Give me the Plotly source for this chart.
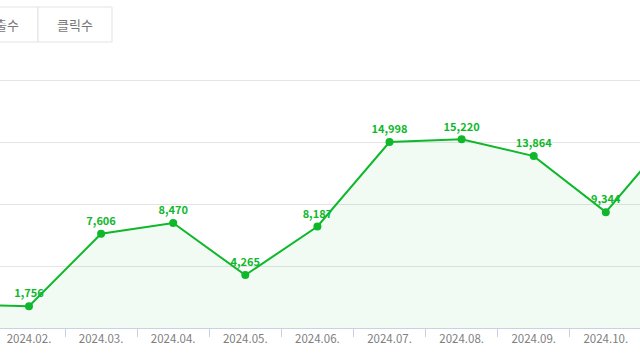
import plotly.graph_objects as go

months = ["2024.01.", "2024.02.", "2024.03.", "2024.04.", "2024.05.", "2024.06.",
          "2024.07.", "2024.08.", "2024.09.", "2024.10.", "2024.11."]
clicks = [1900, 1756, 7606, 8470, 4265, 8187, 14998, 15220, 13864, 9344, 16200]
labels = [f"{v:,}" for v in clicks]
buttons = ["노출수", "클릭수"]

GREEN = "#0fb82b"
TOP = 74
BASE = 328
YMAX = (BASE - TOP) / 248 * 20000

fig = go.Figure()
fig.add_trace(go.Scatter(
    x=months, y=clicks, mode="lines+markers+text",
    line=dict(color=GREEN, width=2),
    marker=dict(color=GREEN, size=8),
    fill="tozeroy", fillcolor="rgba(20,190,60,0.06)",
    text=labels, textposition="top center",
    textfont=dict(color=GREEN, size=11, family="Noto Sans CJK KR", weight="bold"),
    cliponaxis=False, hoverinfo="skip",
))

fig.update_layout(
    width=640, height=360,
    margin=dict(l=0, r=0, t=TOP, b=360 - BASE),
    paper_bgcolor="white", plot_bgcolor="white",
    showlegend=False,
    font=dict(family="Noto Sans CJK KR"),
    xaxis=dict(
        type="category", range=[0.598, 9.474],
        tickson="boundaries", ticks="outside", ticklen=8, tickcolor="#c9d1e3", tickwidth=1,
        showline=True, linecolor="#c9d1e3", linewidth=1,
        showgrid=False, zeroline=False,
        tickfont=dict(size=11.5, color="#808080"),
    ),
    yaxis=dict(
        range=[0, YMAX], tickvals=[5000, 10000, 15000, 20000], showticklabels=False,
        showgrid=True, gridcolor="#e4e4e4", gridwidth=1, zeroline=False,
    ),
)

# tab buttons at the top (UI decoration)
H = BASE - TOP
def px(x):
    return x / 640
def py(y):
    return (BASE - y) / H

fig.add_shape(type="rect", xref="paper", yref="paper",
              x0=px(-36), x1=px(38), y0=py(42), y1=py(7),
              line=dict(color="#e3e3e3", width=1), fillcolor="white", layer="above")
fig.add_shape(type="rect", xref="paper", yref="paper",
              x0=px(38), x1=px(112), y0=py(42), y1=py(7),
              line=dict(color="#e3e3e3", width=1), fillcolor="white", layer="above")
for cx, t in zip([1, 75], buttons):
    fig.add_annotation(xref="paper", yref="paper", x=px(cx), y=py(25),
                       text=t, showarrow=False, xanchor="center", yanchor="middle",
                       font=dict(size=13, color="#777777", family="Noto Sans CJK KR"))

fig.write_html("out.html", config={"displayModeBar": False},
               post_script="document.body.style.margin='0';document.body.style.overflow='hidden';")
